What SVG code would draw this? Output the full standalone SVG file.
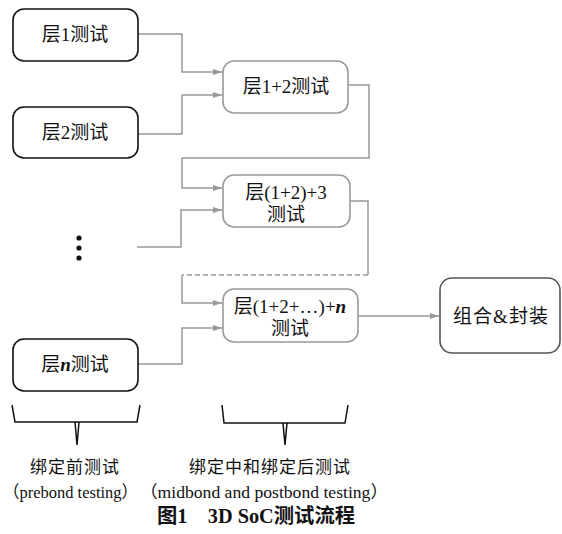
<svg xmlns="http://www.w3.org/2000/svg" width="562" height="534" viewBox="0 0 562 534">
<defs>
<style>
.t{font-family:"Liberation Serif","Noto Sans CJK SC",serif;fill:#111;}
.n{font-size:19px;}
.lay{fill:#fff;stroke:#111;stroke-width:1.6;}
.cmb{fill:#fff;stroke:#999;stroke-width:1.6;}
.fin{fill:#fff;stroke:#555;stroke-width:1.6;}
.c{fill:none;stroke:#999;stroke-width:1.5;}
.br{fill:none;stroke:#111;stroke-width:1.5;}
</style>
<marker id="ah" markerWidth="10" markerHeight="8" refX="9" refY="4" orient="auto" markerUnits="userSpaceOnUse">
<path d="M0,1 L9,4 L0,7 Z" fill="#999"/>
</marker>
</defs>
<rect width="562" height="534" fill="#fff"/>
<g id="connectors">
<path class="c" d="M138,34 H182 V72 H222" marker-end="url(#ah)"/>
<path class="c" d="M138,134 H182 V95 H222" marker-end="url(#ah)"/>
<path class="c" d="M348,85 H369 V158 H182 V188 H222" marker-end="url(#ah)"/>
<path class="c" d="M137,247 H181 V210 H222" marker-end="url(#ah)"/>
<path class="c" d="M350,201 H368 V275"/>
<path class="c" d="M368,275 H182" stroke-dasharray="5,3"/>
<path class="c" d="M182,275 V303 H222" marker-end="url(#ah)"/>
<path class="c" d="M138,364 H182 V328 H222" marker-end="url(#ah)"/>
<path class="c" d="M358,316 H439" marker-end="url(#ah)"/>
</g>
<g id="layer1"><rect class="lay" x="13" y="9" width="125" height="52" rx="11"/><text class="t n" x="75" y="41" text-anchor="middle">层1测试</text></g>
<g id="layer2"><rect class="lay" x="13" y="107" width="125" height="51" rx="11"/><text class="t n" x="75" y="139" text-anchor="middle">层2测试</text></g>
<g id="dots"><circle cx="79" cy="238" r="2.6" fill="#111"/><circle cx="79" cy="248" r="2.6" fill="#111"/><circle cx="79" cy="258" r="2.6" fill="#111"/></g>
<g id="layern"><rect class="lay" x="13" y="339" width="125" height="52" rx="11"/><text class="t n" x="75" y="371" text-anchor="middle">层<tspan font-style="italic" font-weight="bold">n</tspan>测试</text></g>
<g id="test12"><rect class="cmb" x="223" y="61" width="125" height="52" rx="11"/><text class="t n" x="286" y="93" text-anchor="middle">层1+2测试</text></g>
<g id="test123"><rect class="cmb" x="223" y="175" width="127" height="52" rx="11"/><text class="t n" x="286" y="199" text-anchor="middle">层(1+2)+3</text><text class="t n" x="286" y="221" text-anchor="middle">测试</text></g>
<g id="testn"><rect class="cmb" x="223" y="289" width="135" height="53" rx="11"/><text class="t n" x="290" y="313" text-anchor="middle">层(1+2+…)+<tspan font-style="italic" font-weight="bold">n</tspan></text><text class="t n" x="290" y="335" text-anchor="middle">测试</text></g>
<g id="package"><rect class="fin" x="440" y="278" width="120" height="75" rx="12"/><text class="t n" x="501" y="323" text-anchor="middle" letter-spacing="1">组合&amp;封装</text></g>
<g id="braces">
<path class="br" d="M12,405 L15,422 H137 L140,405 M75,422 L77,445 L79,422"/>
<path class="br" d="M222,405 L224,423 H345 L348,405 M283,423 L285,445 L287,423"/>
</g>
<g id="labels">
<text class="t" font-size="17" x="75" y="473" text-anchor="middle" letter-spacing="1">绑定前测试</text>
<text class="t" font-size="17" x="270" y="473" text-anchor="middle" letter-spacing="1">绑定中和绑定后测试</text>
<text class="t" font-size="17" x="3" y="498" textLength="135" lengthAdjust="spacingAndGlyphs">（prebond testing）</text>
<text class="t" font-size="17" x="140" y="498" textLength="248" lengthAdjust="spacingAndGlyphs">（midbond and postbond testing）</text>
<text class="t" font-size="20" font-weight="bold" x="157" y="523" textLength="198" lengthAdjust="spacingAndGlyphs">图1　3D SoC测试流程</text>
</g>
</svg>
